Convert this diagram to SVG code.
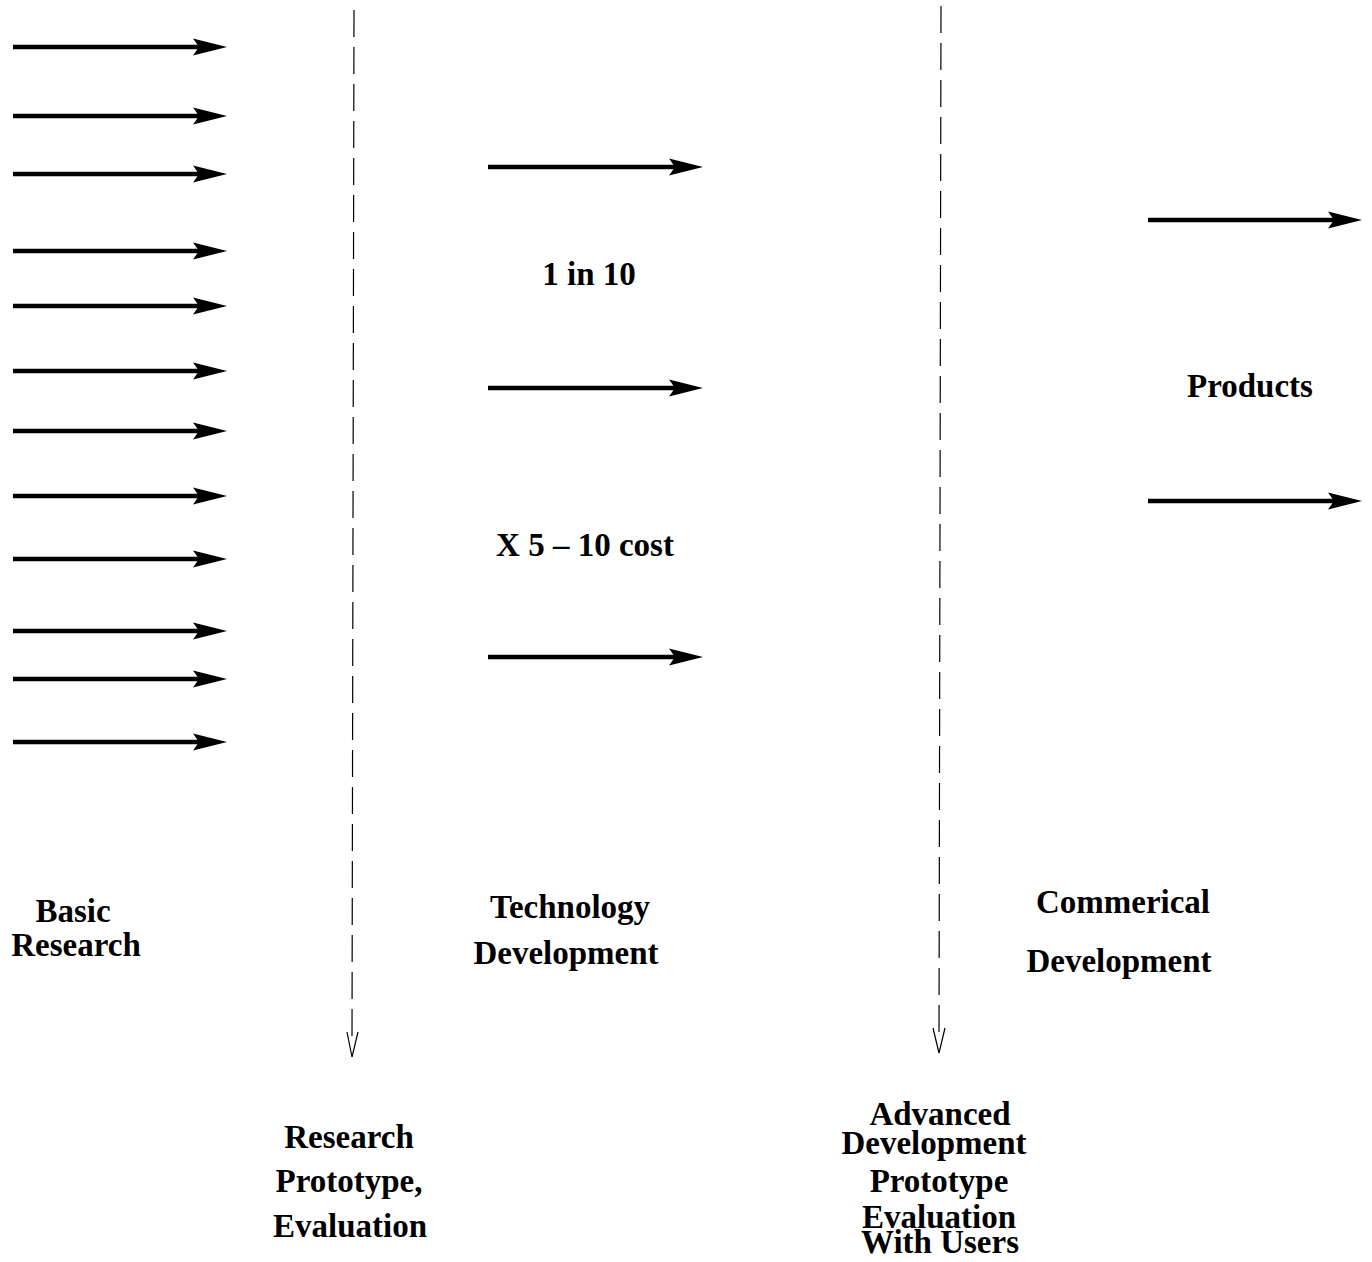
<svg xmlns="http://www.w3.org/2000/svg" width="1372" height="1262" viewBox="0 0 1372 1262">
<style>
  .t { font-family: "Liberation Serif", "Times New Roman", serif; font-weight: bold; font-size: 33px; fill: #000; text-anchor: middle; }
  .a { stroke: #000; stroke-width: 4.5; fill: none; marker-end: url(#ah); }
  .d { stroke: #000; stroke-width: 1.2; fill: none; stroke-dasharray: 27 10; }
  .o { stroke: #000; stroke-width: 1.2; fill: none; }
</style>
<defs>
  <marker id="ah" markerUnits="userSpaceOnUse" markerWidth="40" markerHeight="20" viewBox="0 -10 40 20" refX="6" refY="0" orient="auto" overflow="visible">
    <path d="M0,-8.5 L34,0 L0,8.5 L6,0 Z" fill="#000"/>
  </marker>
</defs>
<rect width="1372" height="1262" fill="#fff"/>
<g id="connectors">
  <path class="a" d="M13,47 H199"/>
  <path class="a" d="M13,116 H199"/>
  <path class="a" d="M13,174 H199"/>
  <path class="a" d="M13,251 H199"/>
  <path class="a" d="M13,306 H199"/>
  <path class="a" d="M13,371 H199"/>
  <path class="a" d="M13,431 H199"/>
  <path class="a" d="M13,496 H199"/>
  <path class="a" d="M13,559 H199"/>
  <path class="a" d="M13,631 H199"/>
  <path class="a" d="M13,679 H199"/>
  <path class="a" d="M13,742 H199"/>
  <path class="a" d="M488,167 H675"/>
  <path class="a" d="M488,388 H675"/>
  <path class="a" d="M488,657 H675"/>
  <path class="a" d="M1148,220 H1334"/>
  <path class="a" d="M1148,501 H1334"/>
  <path class="d" d="M354,10 L352,1040"/>
  <path class="o" d="M347,1032 L352,1057 L358,1032"/>
  <path class="d" d="M941,6 L939,1036"/>
  <path class="o" d="M933,1028 L939,1053 L945,1028"/>
</g>
<g id="basic-research">
  <text class="t" x="73" y="922">Basic</text>
  <text class="t" x="76" y="956">Research</text>
</g>
<g id="technology-development">
  <text class="t" x="570" y="918">Technology</text>
  <text class="t" x="566" y="964">Development</text>
</g>
<g id="commercial-development">
  <text class="t" x="1123" y="913">Commerical</text>
  <text class="t" x="1119" y="972">Development</text>
</g>
<g id="ratio">
  <text class="t" x="589" y="285">1 in 10</text>
</g>
<g id="cost">
  <text class="t" x="585" y="556">X 5 – 10 cost</text>
</g>
<g id="products">
  <text class="t" x="1250" y="397">Products</text>
</g>
<g id="research-prototype">
  <text class="t" x="349" y="1148">Research</text>
  <text class="t" x="349" y="1192">Prototype,</text>
  <text class="t" x="350" y="1237">Evaluation</text>
</g>
<g id="advanced-prototype">
  <text class="t" x="940" y="1125">Advanced</text>
  <text class="t" x="934" y="1154">Development</text>
  <text class="t" x="939" y="1192">Prototype</text>
  <text class="t" x="939" y="1228">Evaluation</text>
  <text class="t" x="940" y="1253">With Users</text>
</g>
</svg>
